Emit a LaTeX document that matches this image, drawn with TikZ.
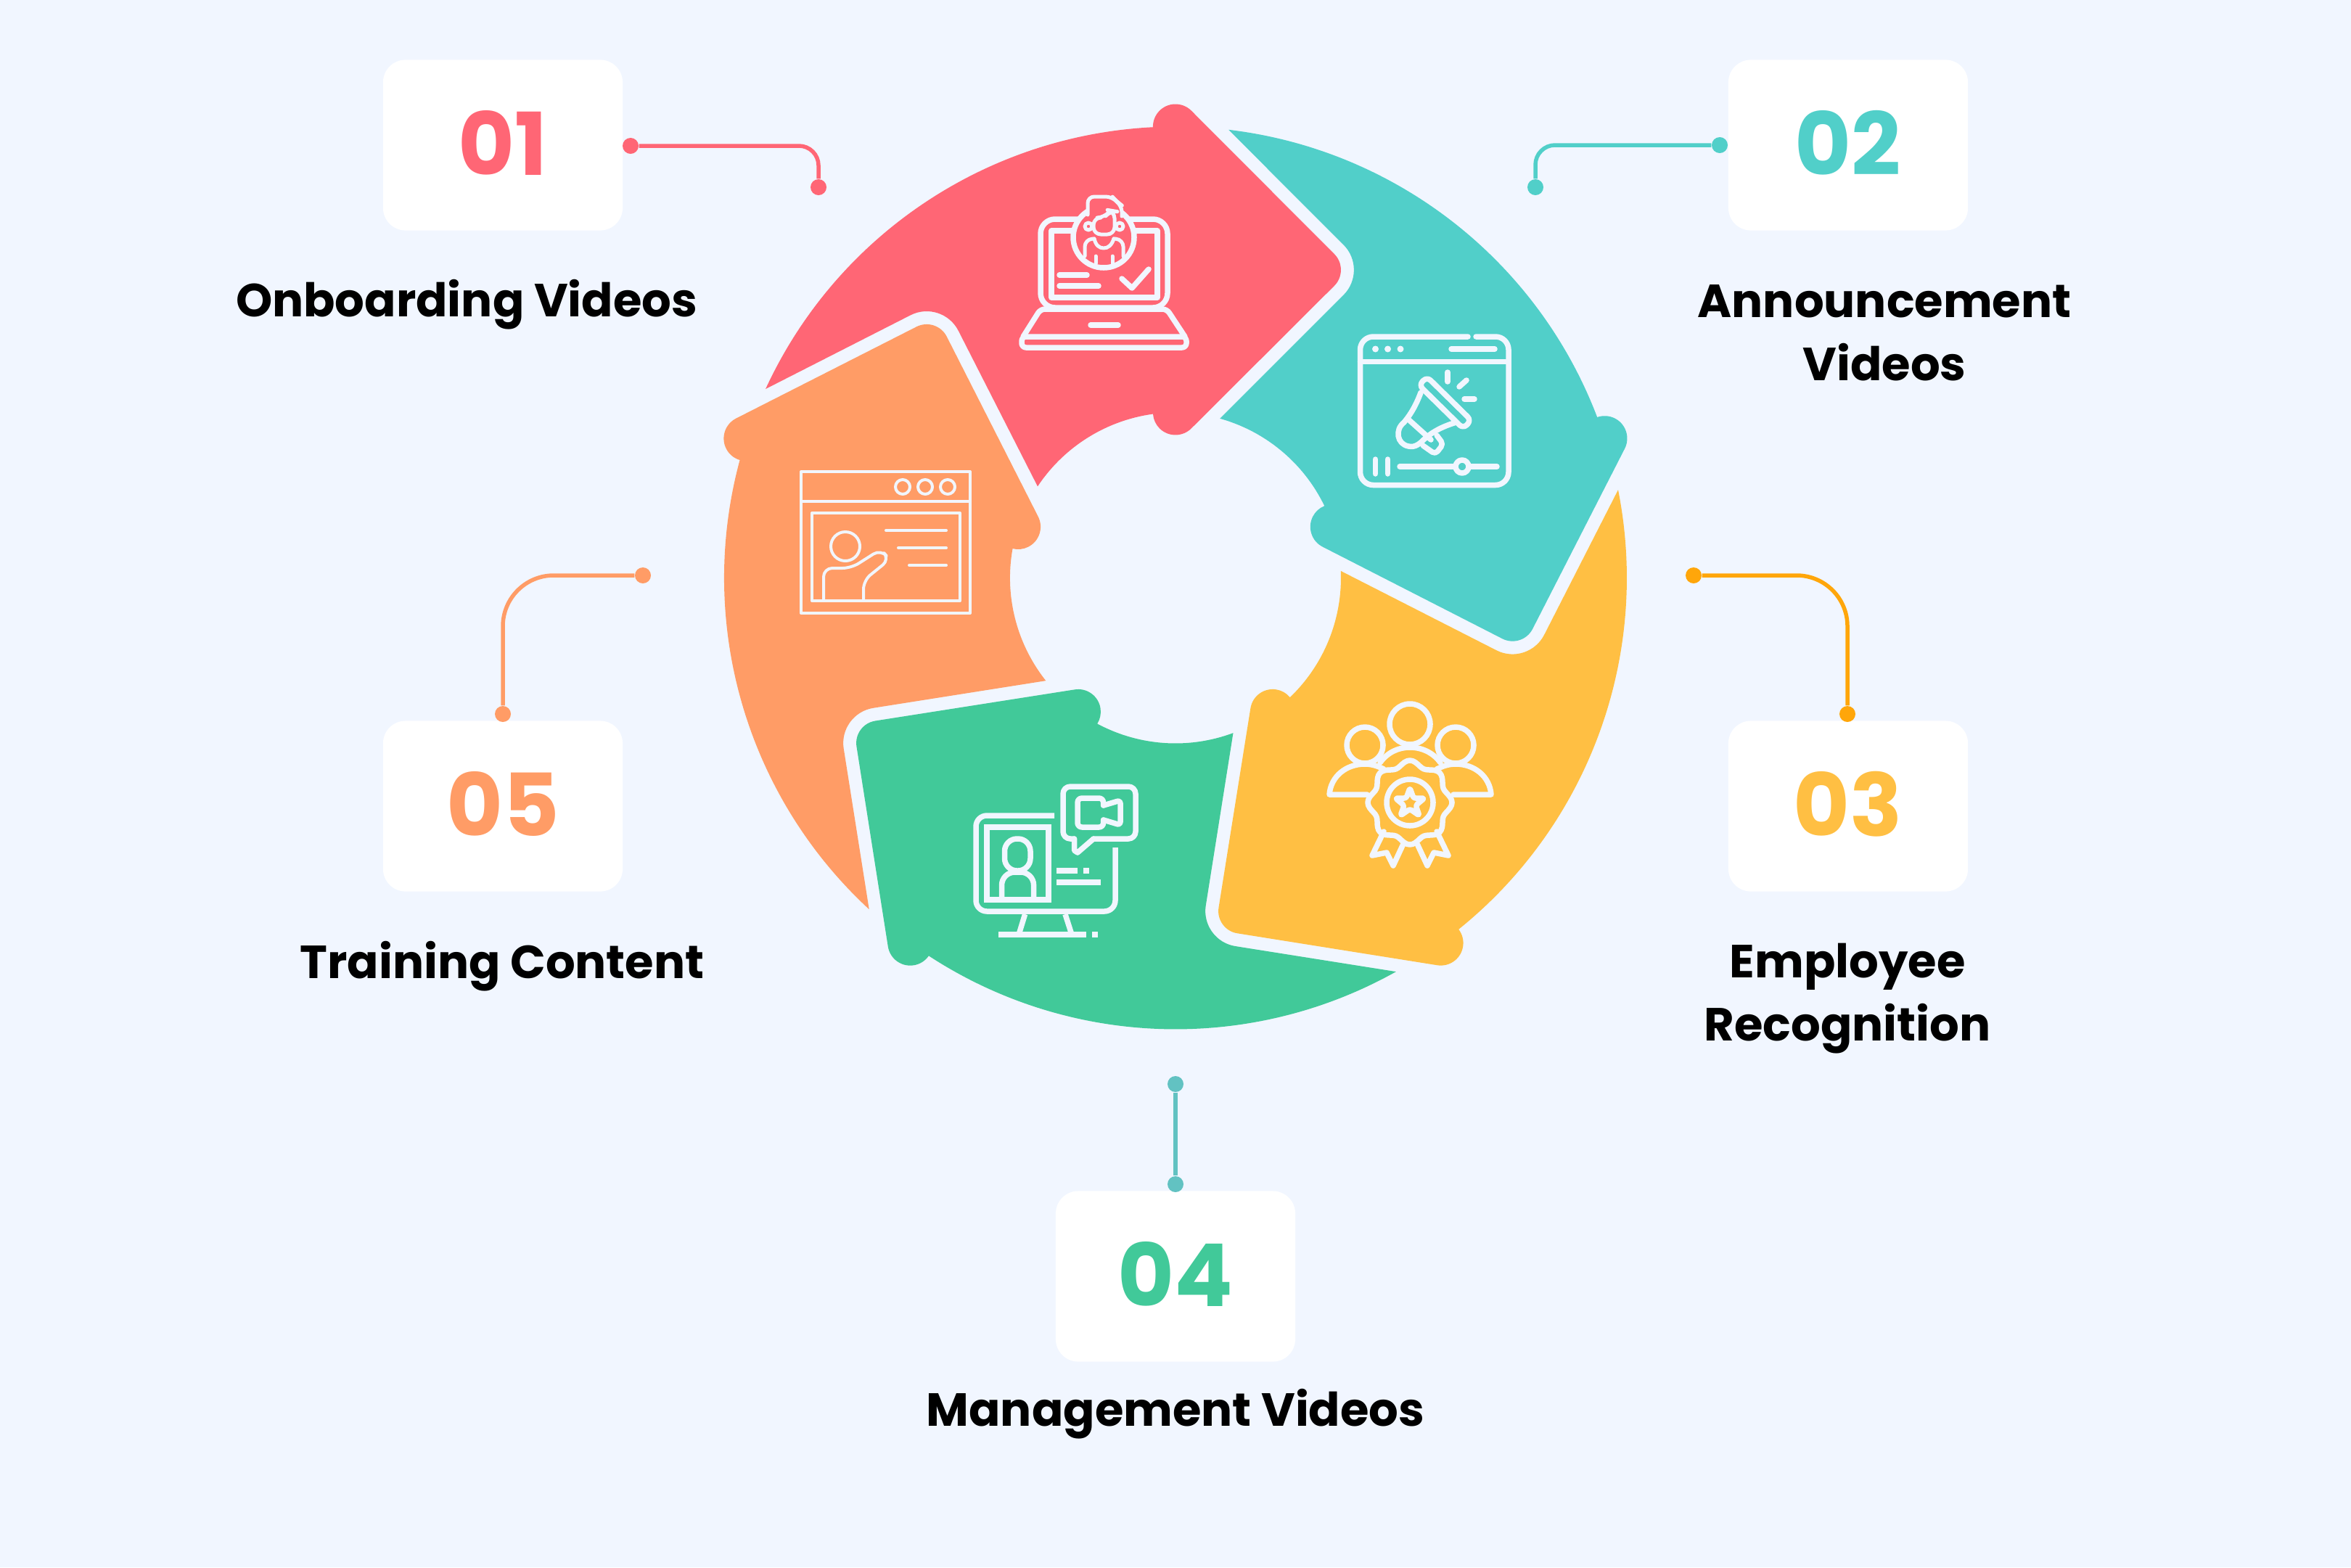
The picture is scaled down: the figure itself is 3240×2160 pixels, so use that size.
\documentclass[tikz,border=0pt]{standalone}
\usepackage{fontspec}
\setmainfont{Poppins}
\usetikzlibrary{positioning}

\definecolor{bgcol}{HTML}{F1F6FF}
\definecolor{redcol}{HTML}{FF6675}
\definecolor{tealcol}{HTML}{51CFC9}
\definecolor{yellowcol}{HTML}{FFBF43}
\definecolor{greencol}{HTML}{41C999}
\definecolor{orangecol}{HTML}{FF9C66}
\definecolor{amberlink}{HTML}{FFA60A}
\definecolor{bluelink}{HTML}{62C2C2}

\tikzset{
    numbox/.style={fill=white, rounded corners=0.31cm, minimum width=3.3cm, minimum height=2.35cm, inner sep=0pt, text depth=0.06cm, font=\fontsize{34}{40}\selectfont\bfseries},
    titletext/.style={align=center, inner sep=0pt, text=black, font=\fontsize{18.2}{24.6}\selectfont\bfseries},
    enddot/.style={circle, fill, minimum size=0.22cm, inner sep=0pt},
    linkline/.style={line width=0.055cm},
    iconline/.style={draw=bgcol, line width=0.075cm, line cap=round, line join=round},
    fineline/.style={draw=bgcol, line width=0.05cm, line cap=round, line join=round},
    thinline/.style={draw=bgcol, line width=0.04cm, line cap=round, line join=round}
}

% one arrow of the ring, turned round the centre
\newcommand{\ringarrow}[2]{
    \begin{scope}[x=0.01cm, y=0.01cm, shift={(16.19cm,-7.96cm)}, rotate=#1]
        \fill[#2] (155.25:622) arc[start angle=155.25, end angle=92.86, radius=622]
            arc[start angle=181.4, end angle=45, radius=31]
            -- (218.9,446.4) arc[start angle=45, end angle=-45, radius=31]
            -- (21.9,206.1) arc[start angle=-45, end angle=-176.1, radius=31]
            arc[start angle=97.8, end angle=146.42, radius=228]
            -- (-299.2,340.7) arc[start angle=27, end angle=117, radius=49]
            -- cycle;
    \end{scope}
}

\begin{document}
\begin{tikzpicture}[x=0.01cm, y=-0.01cm]
    \fill[bgcol] (0,0) rectangle (3240,2160);

    \ringarrow{0}{redcol}
    \ringarrow{-72}{tealcol}
    \ringarrow{-144}{yellowcol}
    \ringarrow{-216}{greencol}
    \ringarrow{-288}{orangecol}

    % number boxes
    \node[numbox, text=redcol] (box1) at (693,200) {01};
    \node[numbox, text=tealcol] (box2) at (2547,200) {02};
    \node[numbox, text=yellowcol] (box3) at (2547,1111) {03};
    \node[numbox, text=greencol] (box4) at (1620,1759) {04};
    \node[numbox, text=orangecol] (box5) at (693,1111) {05};

    % titles
    \node[titletext] (title1) at (643,420) {Onboarding Videos};
    \node[titletext] (title2) at (2597,459) {Announcement\\Videos};
    \node[titletext] (title3) at (2546,1376) {Employee\\Recognition};
    \node[titletext] (title4) at (1620,1949) {Management Videos};
    \node[titletext] (title5) at (692,1332) {Training Content};

    % links
    \node[enddot, fill=redcol] (dot1a) at (869,201) {};
    \node[enddot, fill=redcol] (dot1b) at (1128,258) {};
    \node[enddot, fill=tealcol] (dot2a) at (2370,200) {};
    \node[enddot, fill=tealcol] (dot2b) at (2116,258) {};
    \node[enddot, fill=amberlink] (dot3a) at (2334,793) {};
    \node[enddot, fill=amberlink] (dot3b) at (2546,984) {};
    \node[enddot, fill=bluelink] (dot4a) at (1620,1494) {};
    \node[enddot, fill=bluelink] (dot4b) at (1620,1632) {};
    \node[enddot, fill=orangecol] (dot5a) at (886,793) {};
    \node[enddot, fill=orangecol] (dot5b) at (693,984) {};

    \draw[linkline, redcol, rounded corners=0.27cm] (dot1a) -| (dot1b);
    \draw[linkline, tealcol, rounded corners=0.27cm] (dot2a) -| (dot2b);
    \draw[linkline, amberlink, rounded corners=0.7cm] (dot3a) -| (dot3b);
    \draw[linkline, bluelink] (dot4a) -- (dot4b);
    \draw[linkline, orangecol, rounded corners=0.7cm] (dot5a) -| (dot5b);

    % laptop icon
    \draw[iconline, rounded corners=0.2cm] (1434,302) rectangle (1609,424);
    \draw[iconline] (1449,318) rectangle (1595,410);
    \draw[iconline, fill=redcol] (1521,327) circle[radius=42];
    \fill[redcol] (1499,266) rectangle (1546,300);
    \draw[fineline, rounded corners=0.09cm] (1499,296) -- (1499,271) -- (1533,271) -- (1539,278) -- (1546,283) -- (1546,298);
    \draw[fineline, rounded corners=0.1cm] (1507,300) -- (1507,323) -- (1536,323) -- (1536,291) -- (1530,290) -- (1522,300) -- cycle;
    \draw[fineline] (1500,312) circle[radius=5];
    \draw[fineline] (1543,312) circle[radius=5];
    \draw[fineline] (1508,329) .. controls (1510,338) and (1515,342) .. (1521,342) .. controls (1527,342) and (1532,338) .. (1535,329);
    \draw[fineline, rounded corners=0.1cm] (1495,353) -- (1495,330) -- (1508,329);
    \draw[fineline, rounded corners=0.1cm] (1548,353) -- (1548,330) -- (1535,329);
    \draw[fineline] (1510,353) -- (1510,363);
    \draw[fineline] (1533,353) -- (1533,363);
    \draw[iconline] (1460,379) -- (1498,379);
    \draw[iconline] (1460,394) -- (1514,394);
    \draw[iconline] (1546,384) -- (1560,397) -- (1583,371);
    \draw[iconline, rounded corners=0.06cm] (1410,464) -- (1434,426) -- (1608,426) -- (1633,464);
    \draw[iconline, rounded corners=0.06cm] (1408,464) rectangle (1635,479);
    \draw[iconline] (1503,448) -- (1541,448);

    % megaphone icon
    \draw[iconline, rounded corners=0.18cm] (2023,464) -- (1874.5,464) -- (1874.5,668.5) -- (2079,668.5) -- (2079,464) -- (2034,464);
    \draw[iconline] (1874.5,498.6) -- (2079,498.6);
    \fill[bgcol] (1895.5,481) circle[radius=4.5] (1912.5,481) circle[radius=4.5] (1930,481) circle[radius=4.5];
    \draw[iconline] (2000,481) -- (2060,481);
    \draw[iconline] (1895.5,633) -- (1895.5,653);
    \draw[iconline] (1912.5,633) -- (1912.5,653);
    \draw[iconline] (1929,643) -- (2063,643);
    \draw[iconline, fill=tealcol] (2015,643) circle[radius=9];
    \draw[iconline, rounded corners=0.07cm] (1966.6,519.3) -- (2027.6,579.3) -- (2016.4,590.7) -- (1955.4,530.7) -- cycle;
    \draw[iconline] (1958,541) .. controls (1952,557) and (1945,570) .. (1935,582) .. controls (1922,592) and (1925,612) .. (1941,615) .. controls (1950,617) and (1956,612) .. (1962,606) .. controls (1975,594) and (1990,587) .. (2007,582);
    \draw[iconline] (1942,579) -- (1972,606);
    \draw[iconline, rounded corners=0.05cm] (1980,600) -- (1989,612) -- (1978,626) -- (1961,614);
    \draw[iconline] (1995,513) -- (1995,526);
    \draw[iconline] (2011,533) -- (2021,524);
    \draw[iconline] (2018,550) -- (2032,550);

    % award icon
    \draw[iconline] (1943,998) circle[radius=28];
    \draw[iconline] (1881,1027) circle[radius=25];
    \draw[iconline] (2006,1027) circle[radius=25];
    \draw[iconline] (1902,1051) .. controls (1912,1037) and (1927,1030) .. (1943,1030) .. controls (1959,1030) and (1975,1037) .. (1985,1051);
    \draw[iconline] (1884,1095) -- (1832,1095) .. controls (1834,1070) and (1855,1053) .. (1881,1053) .. controls (1891,1053) and (1899,1056) .. (1907,1060);
    \draw[iconline] (2003,1095) -- (2055,1095) .. controls (2053,1070) and (2032,1053) .. (2006,1053) .. controls (1996,1053) and (1988,1056) .. (1980,1060);
    \draw[iconline] plot[domain=0:360, samples=97, smooth] ({1943+(54+4*cos(8*\x))*cos(\x)}, {1106+(54+4*cos(8*\x))*sin(\x)}) -- cycle;
    \draw[iconline] (1943,1106) circle[radius=32];
    \draw[iconline, rounded corners=0.03cm] (1943,1086) -- (1948,1100) -- (1963,1100) -- (1951,1110) -- (1956,1124) -- (1943,1115) -- (1930,1124) -- (1935,1110) -- (1923,1100) -- (1938,1100) -- cycle;
    \draw[iconline] (1907,1146) -- (1891,1179) -- (1911,1175) -- (1920,1193) -- (1933.5,1164);
    \draw[iconline] (1980,1146) -- (1996,1179) -- (1976,1175) -- (1967,1193) -- (1953.5,1164);

    % monitor icon
    \draw[iconline, line cap=butt, rounded corners=0.15cm] (1453,1124) -- (1345,1124) -- (1345,1256) -- (1537,1256) -- (1537,1168);
    \draw[iconline, line cap=butt, line join=miter] (1360,1140) rectangle (1445,1240);
    \draw[iconline, rounded corners=0.17cm] (1384.5,1156) rectangle (1420,1200);
    \draw[iconline, line cap=butt, rounded corners=0.18cm] (1380.5,1236) -- (1380.5,1202) -- (1424.6,1202) -- (1424.6,1236);
    \draw[iconline, line cap=butt] (1456,1200) -- (1485,1200);
    \draw[iconline, line cap=butt] (1493,1200) -- (1501,1200);
    \draw[iconline, line cap=butt] (1456,1216) -- (1517,1216);
    \draw[iconline, line cap=butt] (1412.6,1260) -- (1404,1288);
    \draw[iconline, line cap=butt] (1468,1260) -- (1477,1288);
    \draw[iconline, line cap=butt] (1376,1288) -- (1496.5,1288);
    \draw[iconline, line cap=butt] (1505,1288) -- (1513,1288);
    \draw[iconline, rounded corners=0.1cm] (1507,1156) -- (1565,1156) -- (1565,1084) -- (1465,1084) -- (1465,1156) -- (1480.5,1156);
    \draw[iconline] (1480.5,1156) -- (1480.5,1172) -- (1485,1175) -- (1507,1156);
    \draw[iconline, rounded corners=0.06cm] (1520.6,1110) -- (1520.6,1100) -- (1485,1100) -- (1485,1140) -- (1520.6,1140) -- (1520.6,1130);
    \draw[iconline, rounded corners=0.04cm] (1520.6,1110) -- (1544,1103) -- (1544,1137) -- (1520.6,1130);

    % presenter icon
    \draw[thinline] (1104,650) rectangle (1337,845);
    \draw[thinline] (1104,691) -- (1337,691);
    \draw[thinline] (1244,671) circle[radius=10];
    \draw[thinline] (1275,671) circle[radius=10];
    \draw[thinline] (1306,671) circle[radius=10];
    \draw[thinline] (1119,707) rectangle (1323,828);
    \draw[thinline] (1165,753) circle[radius=20];
    \draw[thinline, rounded corners=0.12cm] (1135,828) -- (1135,783) -- (1173,783) -- (1214,757) -- (1226,771) -- (1190,800) -- (1190,828);
    \draw[thinline] (1221,731) -- (1304,731);
    \draw[thinline] (1238,755) -- (1304,755);
    \draw[thinline] (1253,779) -- (1304,779);
\end{tikzpicture}
\end{document}
